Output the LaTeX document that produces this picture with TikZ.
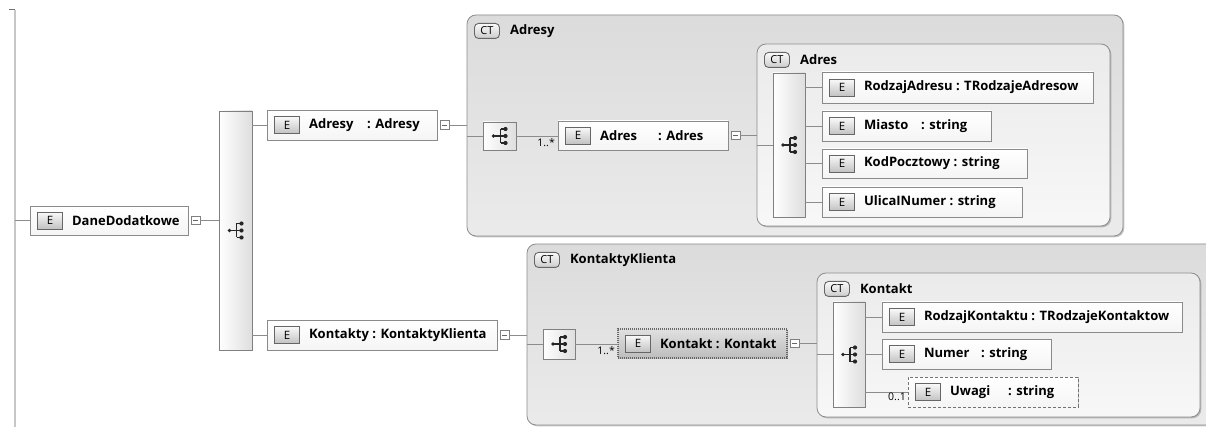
\documentclass[tikz,border=0pt]{standalone}
\usepackage{fontspec}
\setmainfont{Open Sans}
\usetikzlibrary{shadows,calc}
\definecolor{lc}{HTML}{8C8C8C}
\definecolor{bc}{HTML}{8A8A8A}
\newcommand\xelem[7][]{%
  \node[elbox,#1,minimum width=#5-#3,minimum height=#6-#4,anchor=north west] (#2) at (#3,#4) {};
  \node[badge,anchor=west] (#2b) at ([xshift=7pt]#2.west) {E};
  \node[eltext,anchor=west] (#2t) at ([xshift=9pt]#2b.east) {#7};}
\newcommand\xminus[1]{\node[minusbox,anchor=west] (#1m) at ([xshift=3pt]#1.east) {};}
\newcommand\xct[7][]{%
  \node[ctbox,#1,minimum width=#5-#3,minimum height=#6-#4,anchor=north west] (#2) at (#3,#4) {};
  \node[ctbadge,anchor=north west] (#2b) at ([xshift=7pt,yshift=-8pt]#2.north west) {CT};
  \node[eltext,anchor=west] (#2t) at ([xshift=10pt]#2b.east) {#7};}
\newcommand\xseq[6][]{%
  \node[seqbar,#1,minimum width=#5-#3,minimum height=#6-#4,anchor=north west] (#2) at (#3,#4) {};
  \pic at (#2.center) {seqicon};}
\tikzset{
  conn/.style={draw=lc,line width=0.8pt},
  shad/.style={drop shadow={shadow xshift=1.3pt,shadow yshift=-1.3pt,fill=black,opacity=0.22}},
  elbox/.style={draw=bc,line width=0.8pt,top color=white,bottom color=black!4,outer sep=0pt,inner sep=0pt,shad},
  badge/.style={draw=black!60,line width=0.9pt,top color=black!2,bottom color=black!24,minimum width=25pt,minimum height=17pt,inner sep=0pt,font=\fontsize{11.5}{12}\selectfont},
  ctbadge/.style={draw=black!60,line width=0.9pt,rounded corners=4pt,top color=black!2,bottom color=black!20,minimum width=25pt,minimum height=15pt,inner sep=0pt,font=\fontsize{11}{12}\selectfont},
  eltext/.style={font=\fontsize{13}{14}\selectfont\bfseries,inner sep=0pt},
  small/.style={font=\fontsize{10.5}{11}\selectfont,inner sep=0pt},
  minusbox/.style={draw=black!50,fill=white,line width=0.7pt,minimum size=8.5pt,inner sep=0pt,
    path picture={\draw[black!60,line width=0.7pt] ([xshift=2pt]path picture bounding box.west) -- ([xshift=-2pt]path picture bounding box.east);}},
  ctbox/.style={draw=black!45,line width=0.8pt,rounded corners=9pt,outer sep=0pt,inner sep=0pt,shad},
  ctouter/.style={top color=black!14,bottom color=black!8},
  ctinner/.style={top color=black!8,bottom color=black!3},
  seqbar/.style={draw=black!50,line width=0.8pt,left color=white,right color=black!13,outer sep=0pt,inner sep=0pt,shad},
  seqicon/.pic={
    \fill[black!85] (-6,0) circle (1.9);
    \draw[black!85,line width=1.1pt] (-6,0) -- (1,0);
    \draw[black!85,line width=1.1pt] (1,-7) -- (1,7);
    \foreach \yy in {-7,0,7} {\draw[black!85,line width=1.1pt] (1,\yy) -- (6,\yy); \fill[black!85] (6,\yy) circle (2.1);}
  },
  hatched/.style={top color=black!12,bottom color=black!26,draw=black!60,line width=2.6pt,dash pattern=on 1pt off 1pt},
  optional/.style={draw=black!55,dash pattern=on 3pt off 2pt}
}
\begin{document}
\begin{tikzpicture}[x=1pt,y=-1pt]
\useasboundingbox (0,0) rectangle (1206,427);
\clip (0,0) rectangle (1206,427);
% left rail
\coordinate (tick) at (9,10);
\coordinate (railtop) at (15,10);
\coordinate (railbot) at (15,427);
\draw[black!22,line width=1.6pt] (railtop) -- (railbot);
\draw[black!55,line width=1pt] (tick) -- (railtop);

% containers
\xct[ctouter]{ctadresy}{467}{15}{1123}{236}{Adresy}
\xct[ctinner]{ctadres}{757}{44}{1110}{226}{Adres}
\xct[ctouter]{ctkk}{527}{244}{1220}{425}{KontaktyKlienta}
\xct[ctinner]{ctkontakt}{817}{273}{1200}{417}{Kontakt}

% root
\xelem{dane}{30}{206}{188}{235}{DaneDodatkowe}
\xminus{dane}
\xseq{bigseq}{219}{111}{252}{350}

\xelem{adresy}{267}{110}{437}{140}{\makebox[58pt][l]{Adresy}: Adresy}
\xminus{adresy}
\xelem{kontakty}{267}{320}{497}{350}{Kontakty : KontaktyKlienta}
\xminus{kontakty}

% Adresy content
\xseq{seq1}{483}{122}{516}{150}
\xelem{adres}{558}{121}{728}{150}{\makebox[58pt][l]{Adres}: Adres}
\xminus{adres}
\xseq{seq2}{773}{73}{805}{217}
\xelem{rodzajadr}{822}{72}{1093}{103}{RodzajAdresu : TRodzajeAdresow}
\xelem{miasto}{822}{111}{991}{141}{\makebox[57pt][l]{Miasto}: string}
\xelem{kod}{822}{149}{1027}{178}{KodPocztowy : string}
\xelem{ulica}{822}{187}{1022}{217}{UlicaINumer : string}

% Kontakty content
\xseq{seq3}{543}{329}{575}{359}
\xelem[hatched]{kontakt}{618}{329}{787}{358}{Kontakt : Kontakt}
\xminus{kontakt}
\xseq{seq4}{833}{302}{865}{407}
\xelem{rodzajk}{882}{302}{1182}{332}{RodzajKontaktu : TRodzajeKontaktow}
\xelem{numer}{882}{339}{1051}{369}{\makebox[57pt][l]{Numer}: string}
\xelem[optional]{uwagi}{908}{377}{1078}{407}{\makebox[58pt][l]{Uwagi}: string}

% connectors
\draw[conn] (dane.west -| railtop) -- (dane.west);
\draw[conn] (danem.east) -- (danem.east -| bigseq.west);
\draw[conn] (bigseq.east |- adresy.west) -- (adresy.west);
\draw[conn] (bigseq.east |- kontakty.west) -- (kontakty.west);
\draw[conn] (adresym.east) -- (adresym.east -| ctadresy.west);
\draw[conn] (ctadresy.west |- seq1.west) -- (seq1.west);
\draw[conn] (seq1.east) -- (seq1.east -| adres.west);
\node[small,anchor=east] (m1) at ([xshift=-3pt,yshift=-7pt]adres.west) {1..*};
\draw[conn] (adresm.east) -- (adresm.east -| ctadres.west);
\draw[conn] (ctadres.west |- seq2.west) -- (seq2.west);
\foreach \c in {rodzajadr,miasto,kod,ulica} \draw[conn] (seq2.east |- \c.west) -- (\c.west);

\draw[conn] (kontaktym.east) -- (kontaktym.east -| ctkk.west);
\draw[conn] (ctkk.west |- seq3.west) -- (seq3.west);
\draw[conn] (seq3.east) -- (seq3.east -| kontakt.west);
\node[small,anchor=east] (m2) at ([xshift=-3pt,yshift=-7pt]kontakt.west) {1..*};
\draw[conn] (kontaktm.east) -- (kontaktm.east -| ctkontakt.west);
\draw[conn] (ctkontakt.west |- seq4.west) -- (seq4.west);
\foreach \c in {rodzajk,numer,uwagi} \draw[conn] (seq4.east |- \c.west) -- (\c.west);
\node[small,anchor=east] (m3) at ([xshift=-2pt,yshift=-5pt]uwagi.west) {0..1};
\end{tikzpicture}
\end{document}
